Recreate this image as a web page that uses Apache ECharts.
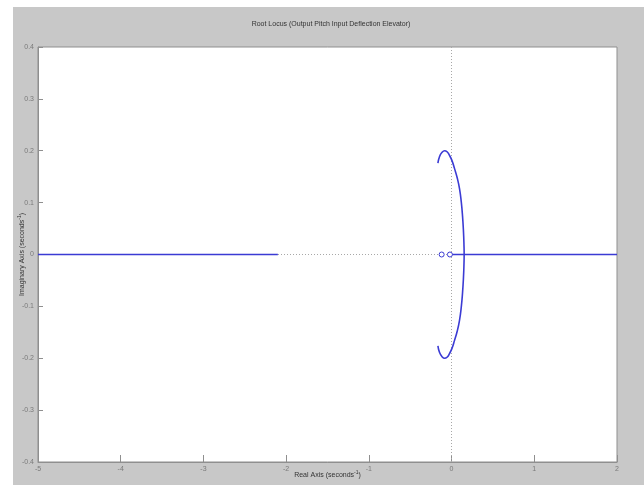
<!DOCTYPE html>
<html>
<head>
<meta charset="utf-8">
<script src="https://cdn.jsdelivr.net/npm/echarts@6/dist/echarts.min.js"></script>
<style>
  html, body { margin: 0; padding: 0; background: #ffffff; }
  #chart { width: 644px; height: 485px; }
</style>
</head>
<body>
<div id="chart"></div>
<script>
// Root locus branches (real part, imaginary part)
const leftBranchRe = [-5, -2.1];
const leftBranchIm = [0, 0];
const rightBranchRe = [-0.02, 2];
const rightBranchIm = [0, 0];
// complex pair branch that loops round and meets the real axis
const arcRe = [-0.165, -0.145, -0.115, -0.085, -0.055, -0.025, 0.005, 0.035, 0.068, 0.096,
               0.117, 0.133, 0.144, 0.15, 0.152,
               0.15, 0.144, 0.133, 0.117, 0.096, 0.068, 0.035, 0.005, -0.025, -0.055,
               -0.085, -0.115, -0.145, -0.165];
const arcIm = [0.176, 0.189, 0.197, 0.2, 0.198, 0.191, 0.181, 0.166, 0.148, 0.127,
               0.102, 0.073, 0.044, 0.018, 0.0,
               -0.018, -0.044, -0.073, -0.102, -0.127, -0.148, -0.166, -0.181, -0.191, -0.198,
               -0.2, -0.197, -0.189, -0.176];
// open-loop zeros
const zerosRe = [-0.12, -0.02];
const zerosIm = [0, 0];

const xTicks = [-5, -4, -3, -2, -1, 0, 1, 2];
const yTicks = [-0.4, -0.3, -0.2, -0.1, 0, 0.1, 0.2, 0.3, 0.4];

const pairs = (xs, ys) => xs.map((x, i) => [x, ys[i]]);

const locusColor = '#3b3bd4';
const labelColor = '#7a7a7a';
const font = 'Liberation Sans';

const chart = echarts.init(document.getElementById('chart'), null, { renderer: 'canvas' });

chart.setOption({
  backgroundColor: '#ffffff',
  animation: false,
  graphic: [{
    type: 'rect', z: -100, silent: true,
    shape: { x: 13, y: 7, width: 631, height: 478 },
    style: { fill: '#c8c8c8' }
  }],
  title: {
    text: 'Root Locus (Output Pitch Input Deflection Elevator)',
    left: 326, top: 16, textAlign: 'center',
    textStyle: { fontFamily: font, fontSize: 7, fontWeight: 'normal', color: '#333333' }
  },
  grid: {
    left: 38, top: 47, right: 27, bottom: 23,
    outerBoundsMode: 'none', containLabel: false,
    show: true, backgroundColor: '#ffffff', borderColor: '#8f8f8f', borderWidth: 1
  },
  xAxis: {
    type: 'value', min: -5, max: 2, interval: 1,
    name: 'Real Axis (seconds{sup|-1})',
    nameLocation: 'middle', nameGap: 8, nameMoveOverlap: false,
    nameTextStyle: {
      fontFamily: font, fontSize: 7, color: '#333333',
      rich: { sup: { fontFamily: font, fontSize: 5, color: '#333333', padding: [0, 0, 6, 0] } }
    },
    axisLine: { show: true, onZero: false, lineStyle: { color: '#8f8f8f' } },
    axisTick: { show: true, inside: true, length: 7, lineStyle: { color: '#8f8f8f' } },
    axisLabel: {
      fontFamily: font, fontSize: 7, color: labelColor, margin: 4,
      formatter: v => xTicks.includes(v) ? String(v) : ''
    },
    splitLine: { show: false }
  },
  yAxis: {
    type: 'value', min: -0.4, max: 0.4, interval: 0.1,
    name: 'Imaginary Axis (seconds{sup|-1})',
    nameLocation: 'middle', nameGap: 10, nameRotate: 90, nameMoveOverlap: false,
    nameTextStyle: {
      fontFamily: font, fontSize: 7, color: '#333333',
      rich: { sup: { fontFamily: font, fontSize: 5, color: '#333333', padding: [0, 0, 6, 0] } }
    },
    axisLine: { show: true, onZero: false, lineStyle: { color: '#8f8f8f' } },
    axisTick: { show: true, inside: true, length: 5, lineStyle: { color: '#8f8f8f' } },
    axisLabel: {
      fontFamily: font, fontSize: 7, color: labelColor, margin: 4,
      formatter: v => {
        const r = Math.round(v * 10) / 10;
        return yTicks.some(t => Math.abs(t - r) < 1e-9) ? String(r) : '';
      }
    },
    splitLine: { show: false }
  },
  series: [
    {
      name: 'axes', type: 'line', data: [], silent: true, z: 1,
      markLine: {
        silent: true, symbol: 'none', label: { show: false },
        lineStyle: { color: '#a8a8a8', type: [1, 2], width: 1 },
        data: [{ xAxis: 0 }, { yAxis: 0 }]
      }
    },
    {
      name: 'branch-left', type: 'line', data: pairs(leftBranchRe, leftBranchIm),
      showSymbol: false, lineStyle: { color: locusColor, width: 1.6 }, z: 5
    },
    {
      name: 'branch-right', type: 'line', data: pairs(rightBranchRe, rightBranchIm),
      showSymbol: false, lineStyle: { color: locusColor, width: 1.6 }, z: 5
    },
    {
      name: 'branch-complex', type: 'line', data: pairs(arcRe, arcIm),
      showSymbol: false, smooth: 0.5, lineStyle: { color: locusColor, width: 1.6 }, z: 5
    },
    {
      name: 'zeros', type: 'scatter', data: pairs(zerosRe, zerosIm),
      symbol: 'circle', symbolSize: 5,
      itemStyle: { color: '#ffffff', borderColor: locusColor, borderWidth: 1, opacity: 1 }, z: 10
    }
  ]
});
</script>
</body>
</html>
